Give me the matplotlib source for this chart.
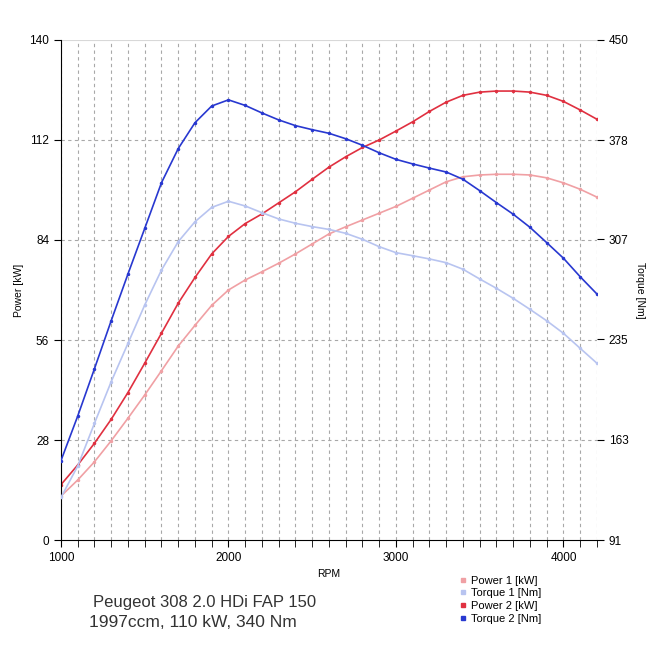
import numpy as np
import matplotlib
matplotlib.use("Agg")
import matplotlib.pyplot as plt
from matplotlib.ticker import MultipleLocator
from matplotlib.lines import Line2D

plt.rcParams['font.family'] = ['Liberation Sans', 'DejaVu Sans']

# rpm points, every 100 rpm
rpm = np.arange(1000, 4201, 100)

power_1 = [12.3, 16.8, 21.9, 27.8, 34.1, 40.6, 47.4, 54.3, 60.1, 65.7, 70.0,
           72.8, 75.1, 77.5, 80.1, 82.9, 85.7, 87.7, 89.6, 91.5, 93.4,
           95.7, 98.0, 100.3, 101.7, 102.2, 102.4, 102.4, 102.2, 101.4, 100.0, 98.2, 96.0]
torque_1 = [121.6, 144.1, 174.8, 204.7, 232.2, 259.7, 284.8, 305.2, 319.5, 329.8, 334.2,
            330.8, 326.0, 321.5, 318.4, 316.0, 314.0, 311.2, 306.9, 301.6, 297.3,
            295.1, 292.8, 290.1, 285.4, 278.4, 271.7, 264.5, 256.6, 248.4, 239.4, 228.6, 217.9]
power_2 = [15.5, 21.0, 27.1, 33.8, 41.3, 49.5, 57.9, 66.3, 73.5, 80.1, 85.0,
           88.6, 91.3, 94.4, 97.5, 101.0, 104.4, 107.3, 109.9, 112.0, 114.5,
           117.1, 120.0, 122.6, 124.5, 125.4, 125.7, 125.7, 125.4, 124.5, 122.8, 120.4, 117.8]
torque_2 = [148.0, 180.0, 214.0, 248.5, 282.0, 314.7, 347.5, 372.0, 390.6, 402.6, 407.0,
            403.0, 397.6, 392.6, 388.5, 385.6, 383.0, 379.1, 374.4, 369.0, 364.3,
            361.0, 358.0, 355.2, 350.0, 341.8, 333.2, 324.9, 315.5, 304.5, 293.3, 280.0, 267.6]

power_ticks = [0, 28, 56, 84, 112, 140]
torque_ticks = [91, 163, 235, 307, 378, 450]

c_p1 = '#f0a0a4'
c_t1 = '#b8c4f0'
c_p2 = '#e03040'
c_t2 = '#2838d0'

fig = plt.figure(figsize=(6.5, 6.5), dpi=100)
ax = fig.add_axes([0.0938, 0.1692, 0.8246, 0.7693])
ax2 = ax.twinx()

ax.plot(rpm, power_1, color=c_p1, lw=1.2, marker='o', ms=1.5)
ax.plot(rpm, power_2, color=c_p2, lw=1.2, marker='o', ms=1.5)
ax2.plot(rpm, torque_1, color=c_t1, lw=1.2, marker='o', ms=1.5)
ax2.plot(rpm, torque_2, color=c_t2, lw=1.2, marker='o', ms=1.5)

ax.set_xlim(1000, 4200)
ax.set_ylim(0, 140)
ax2.set_ylim(91, 450)
ax.set_yticks(power_ticks)
ax2.set_yticks(torque_ticks)
ax.set_xticks([1000, 2000, 3000, 4000])
ax.xaxis.set_minor_locator(MultipleLocator(100))

# grid
for x in rpm:
    ax.axvline(x, color='#a8a8a8', lw=0.8, ls=(0, (3, 3)), zorder=0)
for y in power_ticks[1:-1]:
    ax.axhline(y, color='#a8a8a8', lw=0.8, ls=(0, (3, 3)), zorder=0)
ax.axhline(140, color='#d8d8d8', lw=0.8, zorder=0)

for s in ['top', 'right']:
    ax.spines[s].set_visible(False)
for s in ['top', 'right', 'left', 'bottom']:
    ax2.spines[s].set_visible(False)

ax.tick_params(axis='both', which='both', labelsize=8.5, direction='out', length=5)
ax.tick_params(axis='x', which='minor', length=5)
ax2.tick_params(axis='y', labelsize=8.5, direction='out', length=5)

ax.set_xlabel('RPM', fontsize=7.5)
ax.set_ylabel('Power [kW]', fontsize=7.5)
ax2.set_ylabel('Torque [Nm]', fontsize=7.5, rotation=270, labelpad=12)

handles = [Line2D([], [], color=c, marker='s', ls='none', ms=3.5) for c in [c_p1, c_t1, c_p2, c_t2]]
labels = ['Power 1 [kW]', 'Torque 1 [Nm]', 'Power 2 [kW]', 'Torque 2 [Nm]']
fig.legend(handles, labels, loc='upper left', bbox_to_anchor=(0.695, 0.123),
           frameon=False, fontsize=8, handletextpad=0.2, labelspacing=0.25,
           borderpad=0, handlelength=1)

fig.text(0.143, 0.066, 'Peugeot 308 2.0 HDi FAP 150', fontsize=12, color='#333333')
fig.text(0.137, 0.035, '1997ccm, 110 kW, 340 Nm', fontsize=12.5, color='#333333')

fig.savefig('out.png', dpi=100)
